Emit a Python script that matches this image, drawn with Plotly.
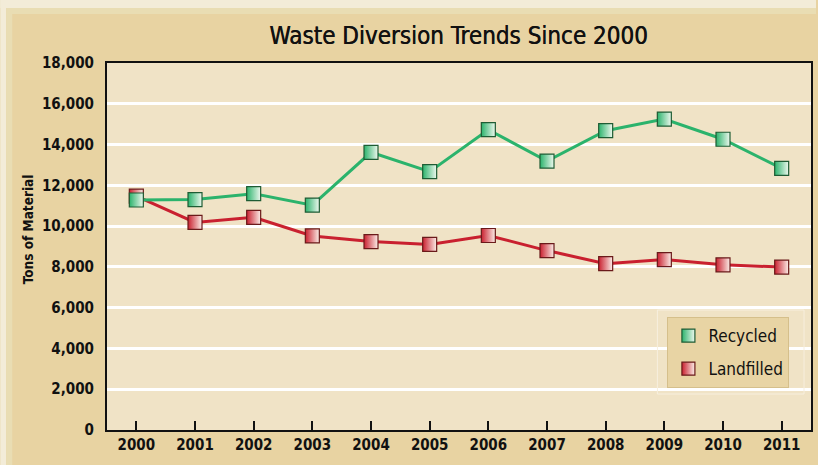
import plotly.graph_objects as go

years = ["2000", "2001", "2002", "2003", "2004", "2005", "2006", "2007", "2008", "2009", "2010", "2011"]
recycled = [11280, 11300, 11590, 11030, 13620, 12670, 14730, 13190, 14680, 15250, 14260, 12830]
landfilled = [11470, 10180, 10430, 9520, 9240, 9100, 9540, 8800, 8160, 8360, 8100, 7990]
y_ticks = [0, 2000, 4000, 6000, 8000, 10000, 12000, 14000, 16000, 18000]
y_tick_labels = ["0", "2,000", "4,000", "6,000", "8,000", "10,000", "12,000", "14,000", "16,000", "18,000"]

GREEN = "#2bb36c"
GREEN_DARK = "#1e5c34"
RED = "#c9202f"
RED_DARK = "#6a1a1a"
FONT = "DejaVu Sans Condensed"
MEDIUM = "0.45px 0 0 #111111"

W, H = 818, 465
L, R, T, B = 107, 5, 63, 35
pw = W - L - R
ph = H - T - B

def px_x(x):
    return (x - L) / pw

def px_y(y):
    return (H - B - y) / ph

fig = go.Figure()

# main lines (landfilled first so recycled sits on top)
fig.add_trace(go.Scatter(
    x=years, y=landfilled, mode="lines+markers", name="Landfilled", showlegend=False,
    line=dict(color=RED, width=3),
    marker=dict(symbol="square", size=14, color=RED,
                gradient=dict(type="horizontal", color="#fbeee8"),
                line=dict(color=RED_DARK, width=1.2)),
))
fig.add_trace(go.Scatter(
    x=years, y=recycled, mode="lines+markers", name="Recycled", showlegend=False,
    line=dict(color=GREEN, width=3),
    marker=dict(symbol="square", size=14, color=GREEN,
                gradient=dict(type="horizontal", color="#eef8ee"),
                line=dict(color=GREEN_DARK, width=1.2)),
))

# legend-only entries
fig.add_trace(go.Scatter(
    x=[None], y=[None], mode="markers", name="Recycled", legendgroup="a",
    marker=dict(symbol="square", size=13, color=GREEN,
                gradient=dict(type="horizontal", color="#eef8ee"),
                line=dict(color=GREEN_DARK, width=1.2)),
))
fig.add_trace(go.Scatter(
    x=[None], y=[None], mode="markers", name="Landfilled", legendgroup="b",
    marker=dict(symbol="square", size=13, color=RED,
                gradient=dict(type="horizontal", color="#fbeee8"),
                line=dict(color=RED_DARK, width=1.2)),
))

def rect(x0, y0, x1, y1, color, layer="below", line=None):
    return dict(type="rect", xref="paper", yref="paper", layer=layer,
                x0=px_x(x0), x1=px_x(x1), y0=px_y(y1), y1=px_y(y0),
                fillcolor=color, line=line or dict(width=0))

shapes = [
    rect(0, 0, W, 8, "#f3ecd8"),
    rect(0, 0, 6, H, "#f3ecd8"),
    rect(6, 8, W, 14, "#e9ddb3"),
    rect(6, 8, 12, H, "#e9ddb3"),
    rect(659, 310, 806, 394, "rgba(0,0,0,0)", layer="above",
         line=dict(color="#f7efde", width=1)),
]

fig.update_layout(
    width=W, height=H,
    margin=dict(l=L, r=R, t=T, b=B),
    paper_bgcolor="#e8d3a2",
    plot_bgcolor="#f0e3c6",
    font=dict(family=FONT, color="#111111"),
    title=dict(text="Waste Diversion Trends Since 2000", x=458.5 / W, xanchor="center",
               y=1 - 36 / H, yanchor="middle", yref="container", xref="container",
               font=dict(family=FONT, size=24, color="#111111", shadow=MEDIUM)),
    shapes=shapes,
    showlegend=True,
    legend=dict(x=px_x(669), y=px_y(317), xanchor="left", yanchor="top",
                bgcolor="#e8d4a4", bordercolor="#d5bf8b", borderwidth=1,
                font=dict(family=FONT, size=17, color="#111111"),
                traceorder="grouped", tracegroupgap=8,
                itemwidth=30),
    annotations=[dict(text="Tons of Material", xref="paper", yref="paper",
                      x=px_x(28), y=px_y(229), showarrow=False, textangle=-90,
                      xanchor="center", yanchor="middle",
                      font=dict(family=FONT, size=13.5, color="#111111", weight="bold"))],
)

fig.update_xaxes(
    type="category", range=[-0.5, 11.5],
    showline=True, linecolor="#111111", linewidth=2, mirror=True,
    ticks="inside", ticklen=9, tickcolor="#111111", tickwidth=1.5,
    showgrid=False, zeroline=False,
    tickfont=dict(family=FONT, size=15, color="#111111", weight="bold"),
)
fig.update_yaxes(
    range=[0, 18000], tickvals=y_ticks, ticktext=y_tick_labels,
    showline=True, linecolor="#111111", linewidth=2, mirror=True,
    showgrid=True, gridcolor="#ffffff", gridwidth=3,
    ticks="", zeroline=False, ticklabelstandoff=8,
    tickfont=dict(family=FONT, size=15, color="#111111", weight="bold"),
)

fig.write_html("out.html",
               config={"displayModeBar": False},
               post_script="document.body.style.margin='0';document.body.style.overflow='hidden';")
